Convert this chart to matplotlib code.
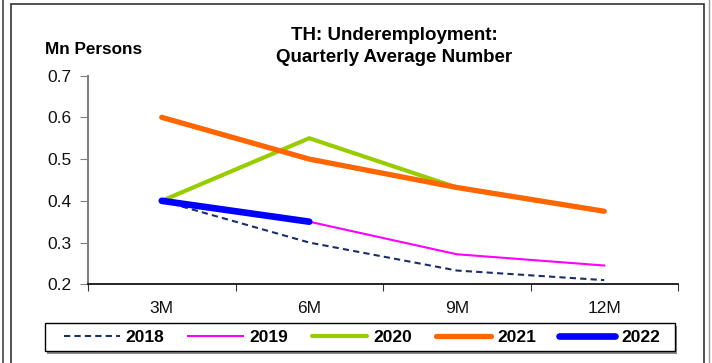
import matplotlib
matplotlib.use("Agg")
import matplotlib.pyplot as plt
from matplotlib.patches import Rectangle
from matplotlib.lines import Line2D

plt.rcParams['font.family'] = ['Liberation Sans', 'DejaVu Sans']

# данные
periods = ["3M", "6M", "9M", "12M"]
years = ["2018", "2019", "2020", "2021", "2022"]
v2018 = [0.40, 0.30, 0.233, 0.21]
v2019 = [0.40, 0.35, 0.272, 0.245]
v2020 = [0.40, 0.55, 0.432, 0.375]
v2021 = [0.60, 0.50, 0.432, 0.375]
v2022 = [0.40, 0.35]

W, H = 712, 363
fig = plt.figure(figsize=(W / 100, H / 100), dpi=100)
ax = fig.add_axes([88 / W, 1 - 284.3 / H, 590 / W, 208.7 / H])

x = list(range(len(periods)))
ax.plot(x, v2018, color="#1a2f66", lw=1.5, ls=(0, (3, 2)), label=years[0])
ax.plot(x, v2019, color="#ff00ff", lw=1.5, label=years[1])
ax.plot(x, v2020, color="#99cc00", lw=3.0, solid_capstyle="round", label=years[2])
ax.plot(x, v2021, color="#ff6600", lw=3.8, solid_capstyle="round", label=years[3])
ax.plot(x[:len(v2022)], v2022, color="#0000ff", lw=4.8, solid_capstyle="round", label=years[4])

# оси
ax.set_xlim(-0.5, len(periods) - 0.5)
ax.set_ylim(0.2, 0.7)
ax.set_yticks([0.2, 0.3, 0.4, 0.5, 0.6, 0.7])
ax.set_yticklabels(["0.2", "0.3", "0.4", "0.5", "0.6", "0.7"])
ax.set_xticks([i - 0.5 for i in range(len(periods) + 1)])
ax.set_xticklabels([])
ax.set_xticks(x, minor=True)
ax.set_xticklabels(periods, minor=True)
ax.tick_params(axis="x", which="major", length=5, color="#333333", direction="out")
ax.tick_params(axis="x", which="minor", length=0, pad=12, labelsize=12.5, labelcolor="#111111")
ax.tick_params(axis="y", length=6, color="#808080", labelsize=12.5, labelcolor="#111111", pad=6)
for s in ["top", "right"]:
    ax.spines[s].set_visible(False)
ax.spines["left"].set_color("#808080")
ax.spines["left"].set_linewidth(1.5)
ax.spines["bottom"].set_color("black")
ax.spines["bottom"].set_linewidth(1.2)

# заголовки
fig.text(394.5 / W, 1 - 46.5 / H, "TH: Underemployment:\nQuarterly Average Number",
         ha="center", va="center", fontsize=13.5, fontweight="bold", linespacing=1.35)
fig.text(45 / W, 1 - 49 / H, "Mn Persons", ha="left", va="center",
         fontsize=12.3, fontweight="bold")

# легенда (рамка рисуется отдельно)
leg = fig.legend(loc="center", bbox_to_anchor=(362 / W, 1 - 337 / H), ncol=5,
                 prop={"weight": "bold", "size": 12.5},
                 handlelength=3.2, handletextpad=0.35, columnspacing=1.35,
                 frameon=False)
fig.add_artist(Rectangle((47 / W, 1 - 354 / H), 630 / W, 28 / H,
                         transform=fig.transFigure, facecolor="#888888",
                         edgecolor="none", zorder=0))
fig.add_artist(Rectangle((45 / W, 1 - 351 / H), 630 / W, 28 / H,
                         transform=fig.transFigure, facecolor="white",
                         edgecolor="black", lw=1.0, zorder=1))
leg.set_zorder(5)

# рамка
fig.add_artist(Rectangle((10.7 / W, -0.05), (703.7 - 10.7) / W, 1.05 - 4 / H,
                         transform=fig.transFigure, fill=False,
                         edgecolor="#333333", lw=1.2, clip_on=False))
fig.add_artist(Line2D([2.7 / W, 2.7 / W], [0, 1], transform=fig.transFigure,
                      color="#444444", lw=1.2))
fig.add_artist(Line2D([708.7 / W, 708.7 / W], [0, 1], transform=fig.transFigure,
                      color="#999999", lw=1.0))

fig.savefig("out.png", dpi=100)
